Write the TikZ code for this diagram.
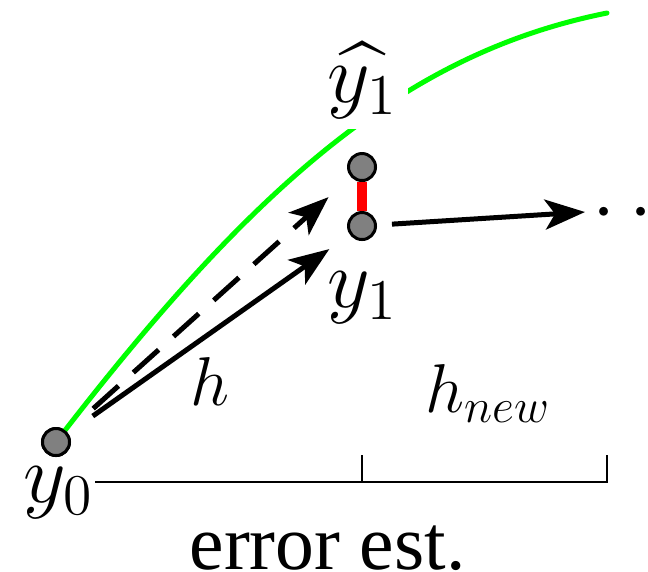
\documentclass[tikz,border=0pt]{standalone}
\usepackage{amsmath}
\usepackage[no-math]{fontspec}
\setmainfont{Liberation Serif}
\usetikzlibrary{arrows.meta}
\begin{document}
\begin{tikzpicture}[x=0.25pt,y=-0.25pt,
  ptnode/.style={circle,draw=black,fill={rgb,255:red,128;green,128;blue,128},line width=0.75pt,minimum size=6.75pt,inner sep=0pt},
  lab/.style={inner sep=0pt,font=\fontsize{20}{24}\selectfont},
  hlab/.style={inner sep=0pt,font=\fontsize{16.5}{20}\selectfont},
  arr/.style={line width=1.25pt,-{Stealth[length=10pt,width=7.5pt,inset=2.5pt]}},
  axisline/.style={line width=0.55pt}]
\useasboundingbox (0,0) rectangle (648,571);
\clip (0,0) rectangle (648,571);
% points
\node[ptnode] (y0) at (56,442) {};
\node[ptnode] (yh1) at (362,167) {};
\node[ptnode] (y1) at (362,226) {};
\coordinate (gend) at (607,13);
% exact curve
\draw[green, line width=1.25pt, line cap=round] (y0.center) .. controls (256,182) and (407,53) .. (gend);
\node[ptnode] at (y0) {};
% labels
\node[lab, fill=white, inner sep=2.5pt, anchor=base west] (lyh) at (317,102.5) {$\widehat{y_1}$};
\node[lab, anchor=base west] (ly1) at (327,307) {$y_1$};
\node[lab, anchor=base west] (ly0) at (23,502) {$y_0$};
\node[hlab, anchor=base west] (lh) at (190,405) {$h$};
\node[hlab, anchor=base west] (lhn) at (425,412) {$h_{new}$};
\node[lab, anchor=base west] (dots) at (592,232) {$\cdots$};
\node[font=\fontsize{19.4}{23}\selectfont, inner sep=0pt, anchor=base] (err) at (327.5,569) {error est.};
% error bar
\draw[red, line width=2.3pt] (yh1) -- (y1);
% steps
\draw[arr, shorten <=7.5pt, shorten >=6.25pt] (y0) -- (y1);
\draw[arr, dash pattern=on 8.5pt off 5pt, shorten <=8.75pt, shorten >=7.5pt] (y0) -- (yh1);
\coordinate (tipc) at (585,212);
\draw[arr, shorten <=3.75pt] (y1) -- (tipc);
% axis
\coordinate (ax0) at (95,482);
\coordinate (ax1) at (362,482);
\coordinate (ax2) at (607,482);
\coordinate (t1) at (362,455);
\coordinate (t2) at (607,455);
\draw[axisline] (ax0) -- (ax2) -- (t2);
\draw[axisline] (ax1) -- (t1);
\end{tikzpicture}
\end{document}
